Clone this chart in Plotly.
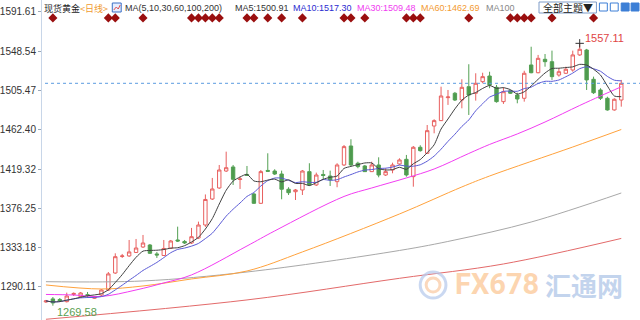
import plotly.graph_objects as go
import pandas as pd

# ---------------- data ----------------
open_ = [1273.7, 1277.0, 1276.4, 1274.0, 1281.9, 1279.5, 1281.7, 1277.7, 1281.3, 1286.8,
         1305.4, 1323.5, 1324.1, 1327.9, 1333.9, 1336.1, 1326.3, 1324.6, 1332.5, 1341.6,
         1340.0, 1338.3, 1343.8, 1358.0, 1386.5, 1398.6, 1417.2, 1421.6, 1407.9, 1413.4,
         1392.0, 1381.8, 1417.8, 1417.2, 1413.9, 1397.2, 1394.5, 1396.4, 1416.5, 1401.9,
         1413.4, 1411.7, 1405.5, 1423.8, 1444.6, 1425.7, 1422.7, 1416.5, 1423.8, 1412.8,
         1418.3, 1424.9, 1430.0, 1411.0, 1443.2, 1436.6, 1466.5, 1472.4, 1497.6, 1502.4,
         1495.0, 1509.6, 1502.4, 1515.1, 1521.3, 1508.9, 1493.2, 1505.2, 1500.5, 1496.9,
         1533.4, 1524.9, 1539.6, 1537.0, 1522.4, 1524.3, 1527.9, 1544.4, 1549.8, 1517.7,
         1506.0, 1496.9, 1484.1, 1495.0]
high = [1275.9, 1279.1, 1278.0, 1283.9, 1284.1, 1284.6, 1284.6, 1280.2, 1287.9, 1306.5,
        1327.0, 1326.3, 1341.6, 1342.7, 1347.1, 1337.2, 1328.5, 1341.6, 1341.6, 1356.2,
        1341.6, 1354.8, 1361.7, 1391.5, 1409.6, 1423.8, 1438.4, 1423.8, 1411.0, 1422.7,
        1393.1, 1418.3, 1436.6, 1419.1, 1417.6, 1399.4, 1397.5, 1418.3, 1425.7, 1415.4,
        1418.3, 1417.6, 1425.7, 1445.7, 1452.0, 1427.4, 1423.8, 1427.4, 1432.2, 1420.2,
        1426.3, 1431.1, 1434.8, 1444.6, 1445.4, 1467.6, 1473.9, 1509.6, 1506.0, 1503.8,
        1517.7, 1534.2, 1524.3, 1524.9, 1526.0, 1511.5, 1508.9, 1506.0, 1503.0, 1527.1,
        1553.4, 1544.4, 1545.4, 1549.1, 1529.8, 1531.5, 1549.1, 1557.11, 1551.0, 1520.6,
        1507.9, 1498.6, 1496.9, 1517.0]
low = [1272.6, 1269.58, 1273.7, 1273.1, 1280.2, 1278.6, 1278.0, 1277.0, 1280.2, 1285.7,
       1304.4, 1321.9, 1323.0, 1327.4, 1332.8, 1326.3, 1321.9, 1324.1, 1331.7, 1339.4,
       1337.2, 1337.2, 1342.7, 1355.9, 1385.4, 1397.5, 1416.1, 1401.9, 1397.5, 1411.7,
       1381.1, 1381.1, 1416.1, 1412.8, 1386.2, 1390.9, 1385.4, 1390.9, 1400.8, 1400.8,
       1407.4, 1400.8, 1399.4, 1422.7, 1422.7, 1420.2, 1416.1, 1416.1, 1410.3, 1411.7,
       1414.7, 1423.8, 1411.0, 1400.0, 1438.4, 1435.9, 1458.5, 1472.0, 1489.6, 1493.9,
       1485.9, 1478.6, 1494.3, 1513.3, 1507.9, 1492.1, 1490.7, 1501.6, 1491.4, 1493.2,
       1524.3, 1524.3, 1531.5, 1517.0, 1520.6, 1523.5, 1526.0, 1543.3, 1506.0, 1501.6,
       1495.0, 1483.3, 1483.3, 1487.7]
close = [1274.8, 1272.6, 1274.8, 1280.2, 1283.0, 1283.5, 1280.8, 1279.5, 1286.8, 1304.4,
         1323.3, 1324.1, 1328.5, 1332.8, 1338.3, 1327.0, 1325.2, 1332.3, 1340.5, 1340.5,
         1338.3, 1345.2, 1358.0, 1386.0, 1397.5, 1418.3, 1420.8, 1408.1, 1408.5, 1412.3,
         1381.8, 1416.5, 1416.9, 1413.9, 1397.2, 1393.4, 1396.4, 1417.2, 1401.9, 1412.8,
         1412.3, 1407.4, 1423.8, 1443.9, 1423.8, 1422.0, 1416.5, 1423.8, 1412.8, 1416.5,
         1423.8, 1429.3, 1412.8, 1443.2, 1439.5, 1461.4, 1472.4, 1499.4, 1498.3, 1495.0,
         1508.9, 1500.5, 1513.3, 1520.6, 1511.5, 1493.2, 1504.1, 1502.4, 1496.1, 1524.3,
         1524.9, 1540.7, 1537.0, 1520.6, 1526.0, 1528.7, 1544.4, 1550.6, 1517.0, 1503.0,
         1496.9, 1484.1, 1495.8, 1513.3]

# long moving averages (sparse points)
ma30_idx = [0, 4, 8, 13, 17, 21, 29, 33, 43, 47, 52, 56, 61, 64, 68, 72, 77, 80, 83]
ma30_val = [1281.9, 1281.3, 1279.7, 1286.8, 1294.5, 1303.3, 1335.0, 1351.5, 1389.3, 1398.6,
            1409.6, 1419.4, 1436.4, 1446.3, 1457.8, 1470.9, 1489.0, 1499.4, 1509.48]
ma60_idx = [0, 8, 14, 21, 29, 37, 51, 60, 64, 76, 83]
ma60_val = [1292.3, 1287.9, 1291.2, 1298.9, 1307.6, 1328.5, 1370.1, 1399.7, 1411.7, 1443.5, 1462.69]
ma100_idx = [0, 14, 29, 51, 59, 70, 83]
ma100_val = [1295.9, 1296.7, 1306.5, 1330.1, 1341.6, 1361.3, 1393.1]
ma200_idx = [0, 29, 51, 66, 83]
ma200_val = [1254.7, 1275.9, 1299.6, 1315.3, 1343.3]

event_idx = [1, 9, 10, 14, 21, 22, 23, 24, 25, 29, 30, 32, 34, 37, 43, 44, 46,
             52, 53, 54, 61, 67, 68, 69, 70, 73, 79]

yticks = [1290.11, 1333.18, 1376.25, 1419.32, 1462.40, 1505.47, 1548.54, 1591.61]
ytick_text = ["1290.11", "1333.18", "1376.25", "1419.32", "1462.40", "1505.47", "1548.54", "1591.61"]

hi_label = "1557.11"
lo_label = "1269.58"

# ---------------- figure ----------------
W, H = 640, 320
L = 36
idx = list(range(len(close)))
ma5 = pd.Series(close).rolling(5, min_periods=1).mean()
ma10 = pd.Series(close).rolling(10, min_periods=1).mean()


def px(x):
    return (x - L) / (W - L)


def py(y):
    return 1 - y / H


fig = go.Figure()

# last close dotted line
fig.add_trace(go.Scatter(x=[-1, 90], y=[close[-1], close[-1]], mode="lines",
                         line=dict(color="#5b9be0", width=1, dash="dot"), hoverinfo="skip"))

fig.add_trace(go.Scatter(x=ma200_idx, y=ma200_val, mode="lines", line=dict(color="#e36a6a", width=1, shape="spline")))
fig.add_trace(go.Scatter(x=ma100_idx, y=ma100_val, mode="lines", line=dict(color="#a8a8a8", width=1, shape="spline")))
fig.add_trace(go.Scatter(x=ma60_idx, y=ma60_val, mode="lines", line=dict(color="#ffa23c", width=1, shape="spline")))
fig.add_trace(go.Scatter(x=ma30_idx, y=ma30_val, mode="lines", line=dict(color="#f23cf2", width=1, shape="spline")))

fig.add_trace(go.Candlestick(
    x=idx, open=open_, high=high, low=low, close=close,
    increasing=dict(line=dict(color="#e8605f", width=1), fillcolor="#ffffff"),
    decreasing=dict(line=dict(color="#53a053", width=1), fillcolor="#4e9a4e"),
    whiskerwidth=0,
))

fig.add_trace(go.Scatter(x=idx, y=ma10, mode="lines", line=dict(color="#5a5ad6", width=1, shape="spline", smoothing=0.6)))
fig.add_trace(go.Scatter(x=idx, y=ma5, mode="lines", line=dict(color="#404040", width=1, shape="spline", smoothing=0.6)))

# event diamonds
fig.add_trace(go.Scatter(x=event_idx, y=[1585.0] * len(event_idx), mode="markers",
                         marker=dict(symbol="diamond", size=7, color="#9a0f0f")))

# high / low labels
fig.add_annotation(x=77, y=1563.5, text=hi_label, showarrow=False, xanchor="left", yanchor="middle", xshift=3,
                   font=dict(family="Liberation Sans", size=11, color="#e04545"))
fig.add_annotation(x=1, y=1262.5, text=lo_label, showarrow=False, xanchor="left", yanchor="middle", xshift=2,
                   font=dict(family="Liberation Sans", size=11, color="#5aa050"))
fig.add_trace(go.Scatter(x=[77], y=[1557.11], mode="markers",
                         marker=dict(symbol="cross-thin", size=6, line=dict(color="#333", width=1))))

# header texts
hdr = [
    ("现货黄金", 36, "#222222", "Noto Sans CJK SC", 9),
    ("<日线>", 72, "#f09a30", "Noto Sans CJK SC", 9),
    ("MA(5,10,30,60,100,200)", 118, "#333333", "Liberation Sans", 9),
    ("MA5:1500.91", 229, "#333333", "Liberation Sans", 9),
    ("MA10:1517.30", 288, "#2b2bd0", "Liberation Sans", 9),
    ("MA30:1509.48", 352, "#f03cf0", "Liberation Sans", 9),
    ("MA60:1462.69", 417, "#f39a30", "Liberation Sans", 9),
    ("MA100", 482, "#888888", "Liberation Sans", 9),
]
for t, x0, col, fam, sz in hdr:
    fig.add_annotation(xref="paper", yref="paper", x=px(x0), y=py(8), text=t, showarrow=False,
                       xanchor="left", yanchor="middle", font=dict(family=fam, size=sz, color=col))

shapes = []
# small chart icon
shapes.append(dict(type="rect", xref="paper", yref="paper", x0=px(107), x1=px(116), y0=py(12), y1=py(3),
                   line=dict(color="#3b6fc4", width=1), fillcolor="#e6eeff"))
shapes.append(dict(type="path", xref="paper", yref="paper",
                   path=f"M {px(108.5)},{py(10)} L {px(111)},{py(7)} L {px(113)},{py(9)} L {px(115)},{py(5)}",
                   line=dict(color="#e05050", width=1)))
# dropdown
shapes.append(dict(type="rect", xref="paper", yref="paper", x0=px(538), x1=px(596), y0=py(13), y1=py(2),
                   line=dict(color="#7e9cc8", width=1), fillcolor="#ffffff"))
fig.add_annotation(xref="paper", yref="paper", x=px(567), y=py(7.5), text="全部主题▼", showarrow=False,
                   xanchor="center", yanchor="middle",
                   font=dict(family="Noto Sans CJK SC", size=10, color="#222"))
for i, (a, b) in enumerate([(599, 607), (610, 618), (621, 629), (631, 639)]):
    fill = "#ffffff" if i < 2 else "#3c7fd6"
    shapes.append(dict(type="rect", xref="paper", yref="paper", x0=px(a), x1=px(b), y0=py(11), y1=py(3),
                       line=dict(color="#3c7fd6", width=1), fillcolor=fill))

# watermark logo
shapes.append(dict(type="circle", xref="paper", yref="paper", x0=px(418), x1=px(444), y0=py(298), y1=py(272),
                   line=dict(color="rgba(180,200,235,0.7)", width=3)))
shapes.append(dict(type="circle", xref="paper", yref="paper", x0=px(424), x1=px(438), y0=py(292), y1=py(278),
                   line=dict(color="rgba(250,200,160,0.7)", width=3)))
fig.add_annotation(xref="paper", yref="paper", x=px(496), y=py(284), text="<b>FX678</b>", showarrow=False,
                   xanchor="center", yanchor="middle",
                   font=dict(family="Roboto", size=29, color="rgba(252,200,150,0.75)"))
fig.add_annotation(xref="paper", yref="paper", x=px(583), y=py(284), text="<b>汇通网</b>", showarrow=False,
                   xanchor="center", yanchor="middle",
                   font=dict(family="Noto Sans CJK SC", size=26, color="rgba(175,198,232,0.75)"))

fig.update_layout(
    width=W, height=H, margin=dict(l=L, r=0, t=0, b=0),
    paper_bgcolor="#ffffff", plot_bgcolor="#ffffff",
    showlegend=False, shapes=shapes,
    xaxis=dict(range=[-0.57, 85.7], visible=False, rangeslider=dict(visible=False), fixedrange=True),
    yaxis=dict(range=[1253.9, 1604.6], tickvals=yticks, ticktext=ytick_text, showgrid=False,
               zeroline=False, showline=True, linecolor="#c8d6e8", linewidth=1,
               ticks="outside", ticklen=3, tickcolor="#9aa8b8",
               tickfont=dict(family="Liberation Sans Narrow, Liberation Sans", size=10, color="#333")),
)

fig.write_html("out.html")
